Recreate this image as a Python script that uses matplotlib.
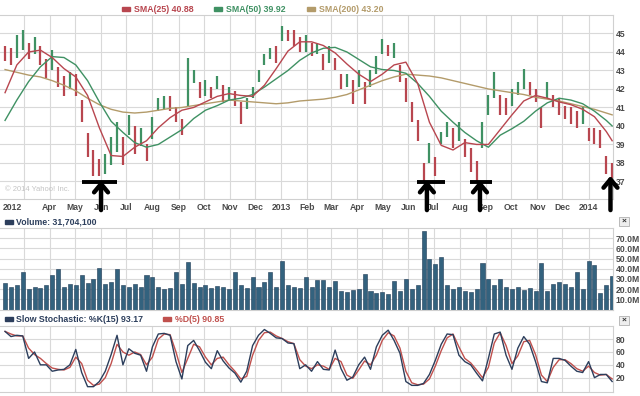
import pandas as pd
import matplotlib
matplotlib.use("Agg")
import matplotlib.pyplot as plt
from matplotlib.patches import Rectangle

# ---------------- data (weekly) ----------------
weeks = pd.date_range("2012-02-08", periods=104, freq="7D")

price_high = [44.3, 44.2, 44.9, 45.2, 44.5, 44.8, 44.3, 43.6, 44.1, 43.2,
              42.7, 42.9, 42.8, 41.4, 39.6, 38.7, 38.2, 38.5, 39.4, 40.2,
              39.4, 40.6, 40.0, 39.9, 39.0, 40.5, 41.5, 41.6, 41.6, 41.0,
              40.4, 43.7, 43.0, 42.4, 42.5, 42.1, 42.7, 42.2, 42.1, 41.9,
              41.3, 41.5, 42.1, 43.0, 43.9, 44.2, 44.3, 45.4, 45.2, 45.2,
              44.8, 44.9, 44.5, 44.5, 43.9, 44.3, 43.7, 42.8, 42.8, 42.5,
              43.0, 42.4, 43.0, 43.8, 44.7, 44.4, 44.5, 43.3, 42.6, 41.3,
              40.3, 38.0, 39.1, 38.3, 39.7, 40.2, 39.9, 40.2, 39.3, 38.8,
              38.1, 40.2, 41.7, 42.9, 41.7, 41.5, 42.0, 42.4, 43.1, 42.4,
              42.0, 41.0, 42.4, 41.7, 41.5, 41.1, 41.0, 40.8, 41.1, 39.9,
              39.9, 39.8, 38.4, 38.0]
price_low = [43.5, 43.3, 43.7, 44.1, 43.6, 43.9, 43.3, 42.6, 43.0, 42.1,
             41.6, 42.0, 41.6, 40.2, 38.3, 37.3, 37.3, 37.4, 37.9, 38.6,
             37.9, 39.5, 38.5, 38.9, 38.1, 39.3, 40.8, 40.9, 40.8, 40.2,
             39.5, 41.0, 42.3, 41.5, 41.6, 41.5, 42.0, 41.3, 41.4, 41.1,
             40.1, 40.9, 41.5, 42.4, 43.3, 43.6, 43.4, 44.6, 44.6, 44.3,
             44.0, 44.0, 43.8, 43.9, 43.0, 43.4, 43.0, 42.0, 42.1, 41.2,
             42.1, 41.2, 42.1, 42.8, 43.9, 43.8, 43.7, 42.4, 41.3, 40.2,
             39.2, 37.0, 38.0, 37.3, 39.0, 39.4, 38.8, 39.2, 38.3, 37.5,
             37.0, 38.8, 40.6, 41.5, 40.6, 40.6, 41.1, 41.7, 42.0, 41.7,
             41.3, 39.9, 41.5, 41.0, 40.6, 40.4, 40.1, 39.9, 40.1, 39.2,
             39.0, 38.8, 37.4, 37.2]

sma_week = list(range(0, 104, 2)) + [103]
sma25 = [41.8, 43.3, 44.0, 44.1, 43.7, 43.1, 42.65, 41.65, 39.9, 38.4,
         38.35, 38.85, 39.2, 39.9, 40.45, 40.85, 41.0, 41.3, 41.6, 41.75,
         41.65, 41.6, 42.2, 43.1, 44.05, 44.55, 44.55, 44.35, 43.95, 43.35,
         42.8, 42.4, 42.8, 43.3, 43.45, 42.3, 40.2, 38.95, 38.7, 39.1,
         39.0, 39.0, 39.8, 40.6, 41.35, 41.65, 41.5, 41.3, 41.15, 40.9,
         40.5, 39.7, 39.2]
sma50 = [40.3, 41.4, 42.4, 43.2, 43.75, 43.7, 43.3, 42.45, 41.3, 40.25,
         39.65, 39.1, 38.85, 39.0, 39.4, 39.8, 40.4, 40.85, 41.1, 41.4,
         41.5, 41.7, 42.1, 42.55, 43.0, 43.55, 43.95, 44.2, 44.25, 44.0,
         43.6, 43.2, 43.05, 43.0, 42.85, 42.3, 41.6, 40.8, 40.2, 39.65,
         39.2, 38.85, 39.5, 39.85, 40.25, 40.8, 41.25, 41.5, 41.4, 41.2,
         40.8, 40.3, 40.0]
sma200 = [43.05, 42.9, 42.75, 42.65, 42.45, 42.2, 41.9, 41.5, 41.15, 40.9,
          40.75, 40.7, 40.75, 40.85, 40.95, 41.0, 41.1, 41.2, 41.3, 41.4,
          41.35, 41.3, 41.25, 41.2, 41.25, 41.35, 41.4, 41.45, 41.55, 41.7,
          41.95, 42.2, 42.45, 42.65, 42.8, 42.75, 42.7, 42.6, 42.45, 42.3,
          42.15, 42.0, 41.9, 41.8, 41.7, 41.55, 41.45, 41.35, 41.2, 41.05,
          40.9, 40.7, 40.6]

volume_m = [26, 22, 24, 37, 20, 22, 21, 24, 34, 40,
            22, 25, 24, 34, 26, 30, 41, 25, 27, 40,
            24, 22, 25, 22, 34, 32, 22, 20, 21, 37,
            25, 47, 26, 22, 24, 21, 23, 22, 20, 37,
            24, 21, 32, 22, 27, 37, 22, 48, 24, 22,
            21, 32, 22, 29, 29, 22, 28, 18, 17, 19,
            20, 35, 18, 16, 17, 15, 28, 18, 30, 20,
            24, 77, 50, 45, 52, 24, 20, 22, 18, 17,
            20, 46, 30, 24, 30, 22, 20, 22, 19, 21,
            18, 46, 18, 25, 27, 25, 22, 37, 20, 48,
            44, 16, 24, 33]

stoch_k = [92, 84, 86, 85, 50, 60, 40, 40, 30, 32,
           33, 40, 64, 28, 6, 6, 14, 30, 56, 86,
           40, 65, 58, 55, 30, 68, 88, 89, 86, 45,
           18, 70, 78, 62, 44, 34, 62, 46, 35, 27,
           13, 30, 70, 86, 95, 89, 82, 81, 74, 73,
           34, 40, 30, 45, 33, 32, 63, 34, 16, 21,
           40, 52, 33, 68, 86, 94, 78, 58, 14, 8,
           8, 11, 25, 47, 72, 88, 87, 55, 45, 40,
           27, 15, 50, 88, 91, 55, 33, 66, 84, 72,
           45, 14, 12, 50, 50, 47, 38, 30, 28, 45,
           20, 25, 25, 14]
stoch_d = [92, 88, 85, 85, 66, 56, 50, 42, 35, 33,
           32, 36, 52, 42, 16, 8, 10, 20, 42, 72,
           60, 55, 60, 56, 40, 52, 80, 88, 87, 60,
           28, 50, 72, 68, 52, 40, 50, 52, 40, 30,
           18, 22, 55, 78, 90, 91, 85, 81, 76, 73,
           48, 38, 34, 40, 38, 33, 50, 45, 24, 19,
           32, 46, 40, 55, 78, 90, 85, 66, 30, 12,
           9, 10, 18, 38, 62, 82, 88, 68, 50, 43,
           32, 20, 36, 74, 90, 70, 42, 54, 76, 78,
           56, 24, 14, 36, 48, 48, 42, 34, 30, 38,
           28, 24, 25, 18]

# hand drawn arrows: (arrow date, bar start, bar end)
arrow_marks = [("2012-06-01", "2012-05-09", "2012-06-20"),
               ("2013-06-23", "2013-06-11", "2013-07-15"),
               ("2013-08-25", "2013-08-13", "2013-09-08"),
               ("2014-01-27", None, None)]

# ---------------- styling ----------------
W, H = 640, 396
RED = "#b8464f"
GREEN = "#3f9163"
TAN = "#b39b6a"
NAVY = "#2c3e5c"
GRID = "#d9d9d9"
LABEL = "#4a4a4a"
plt.rcParams["font.family"] = ["Liberation Sans", "DejaVu Sans"]


def box(x0, y0, x1, y1):
    # pixel box (from top-left) -> figure fraction rect
    return [x0 / W, 1 - y1 / H, (x1 - x0) / W, (y1 - y0) / H]


def px(x, y):
    return x / W, 1 - y / H


fig = plt.figure(figsize=(6.4, 3.96), dpi=100)
fig.patch.set_facecolor("white")

ax = fig.add_axes(box(0, 15, 613, 199))
axv = fig.add_axes(box(0, 228, 613, 309.5))
axs = fig.add_axes(box(0, 326.3, 613, 391.8))

xlim = (pd.Timestamp("2012-02-02"), pd.Timestamp("2014-01-30"))
months = pd.date_range("2012-03-01", "2014-01-01", freq="MS")

for a in (ax, axv, axs):
    a.set_xlim(xlim)
    a.set_xticks(months)
    a.grid(True, color=GRID, lw=0.8)
    a.set_axisbelow(True)
    a.yaxis.tick_right()
    a.tick_params(length=0, labelsize=6.2, labelcolor=LABEL, pad=2)
    for s in a.spines.values():
        s.set_color("#d0d0d0")
        s.set_linewidth(0.8)
    a.spines["left"].set_visible(False)

# ---- price panel ----
mid = [(h + l) / 2 for h, l in zip(price_high, price_low)]
cols = [GREEN if i > 0 and mid[i] >= mid[i - 1] else RED for i in range(len(mid))]
ax.vlines(weeks, price_low, price_high, colors=cols, lw=1.6)
sd = weeks[sma_week]
ax.plot(sd, sma200, color=TAN, lw=1.0)
ax.plot(sd, sma50, color=GREEN, lw=1.0)
ax.plot(sd, sma25, color=RED, lw=1.0)
ax.set_ylim(36.05, 46.0)
ax.set_yticks(range(37, 46))
ax.set_yticklabels([str(v) for v in range(37, 46)], fontweight="bold")
labels = []
for m in months:
    if m.month == 1:
        labels.append(str(m.year))
    elif m == months[0]:
        labels.append("")
    else:
        labels.append(m.strftime("%b"))
ax.set_xticklabels(labels, fontweight="bold", fontsize=6.2, color=LABEL)
ax.tick_params(axis="x", pad=3)
fig.text(*px(3, 207), "2012", fontsize=6.2, fontweight="bold", color=LABEL,
         ha="left", va="center")
ax.text(0.008, 0.03, "\u00a9 2014 Yahoo! Inc.", transform=ax.transAxes,
        fontsize=5.5, color="#c4c4c4", ha="left", va="bottom")

# arrows
for d, b0, b1 in arrow_marks:
    tip = 37.05 if b0 else 37.3
    ax.annotate("", xy=(pd.Timestamp(d), tip), xytext=(pd.Timestamp(d), 35.45),
                annotation_clip=False,
                arrowprops=dict(arrowstyle="->,head_length=0.6,head_width=0.5",
                                lw=3.2, color="black", shrinkA=0, shrinkB=0))
    if b0:
        ax.plot([pd.Timestamp(b0), pd.Timestamp(b1)], [36.95, 36.95],
                color="black", lw=2.8, solid_capstyle="butt", clip_on=False)

# legend row
legend = [(122, RED, "SMA(25) 40.88"), (214, GREEN, "SMA(50) 39.92"),
          (307, TAN, "SMA(200) 43.20")]
for x0, c, txt in legend:
    fig.patches.append(Rectangle((x0 / W, 1 - 11 / H), 8 / W, 4 / H,
                                 transform=fig.transFigure, color=c))
    fig.text(*px(x0 + 12, 9), txt, color=c, fontsize=6.3, fontweight="bold",
             va="center", ha="left")

# ---- volume panel ----
axv.bar(weeks, [v * 1e6 for v in volume_m], width=4.8, color="#33627e",
        edgecolor="#1e3a55", lw=0.4)
axv.set_ylim(0, 80e6)
axv.set_yticks([v * 1e6 for v in range(10, 80, 10)])
axv.set_yticklabels(["%d.0M" % v for v in range(10, 80, 10)], fontweight="bold")
axv.set_xticklabels([])
fig.patches.append(Rectangle((5 / W, 1 - 224 / H), 8 / W, 4 / H,
                             transform=fig.transFigure, color=NAVY))
fig.text(*px(16, 222), "Volume: 31,704,100", color=NAVY, fontsize=6.3,
         fontweight="bold", va="center", ha="left")

# ---- stochastic panel ----
axs.plot(weeks, stoch_d, color="#c0504d", lw=1.0)
axs.plot(weeks, stoch_k, color=NAVY, lw=1.0)
axs.set_ylim(-2, 100)
axs.set_yticks([20, 40, 60, 80])
axs.set_yticklabels(["20", "40", "60", "80"], fontweight="bold")
axs.set_xticklabels([])
fig.patches.append(Rectangle((5 / W, 1 - 321 / H), 8 / W, 4 / H,
                             transform=fig.transFigure, color=NAVY))
fig.text(*px(16, 319), "Slow Stochastic: %K(15) 93.17", color=NAVY,
         fontsize=6.3, fontweight="bold", va="center", ha="left")
fig.patches.append(Rectangle((163 / W, 1 - 321 / H), 8 / W, 4 / H,
                             transform=fig.transFigure, color="#c0504d"))
fig.text(*px(175, 319), "%D(5) 90.85", color="#c0504d",
         fontsize=6.3, fontweight="bold", va="center", ha="left")

# close buttons
for yb in (217, 316):
    fig.patches.append(Rectangle((619 / W, 1 - (yb + 9) / H), 10 / W, 9 / H,
                                 transform=fig.transFigure, facecolor="#eeeeee",
                                 edgecolor="#b0b0b0", lw=0.6))
    fig.text(*px(624, yb + 4.5), "\u00d7", fontsize=6, color="#333333",
             ha="center", va="center", fontweight="bold")

fig.savefig("out.png", dpi=100, facecolor="white")
